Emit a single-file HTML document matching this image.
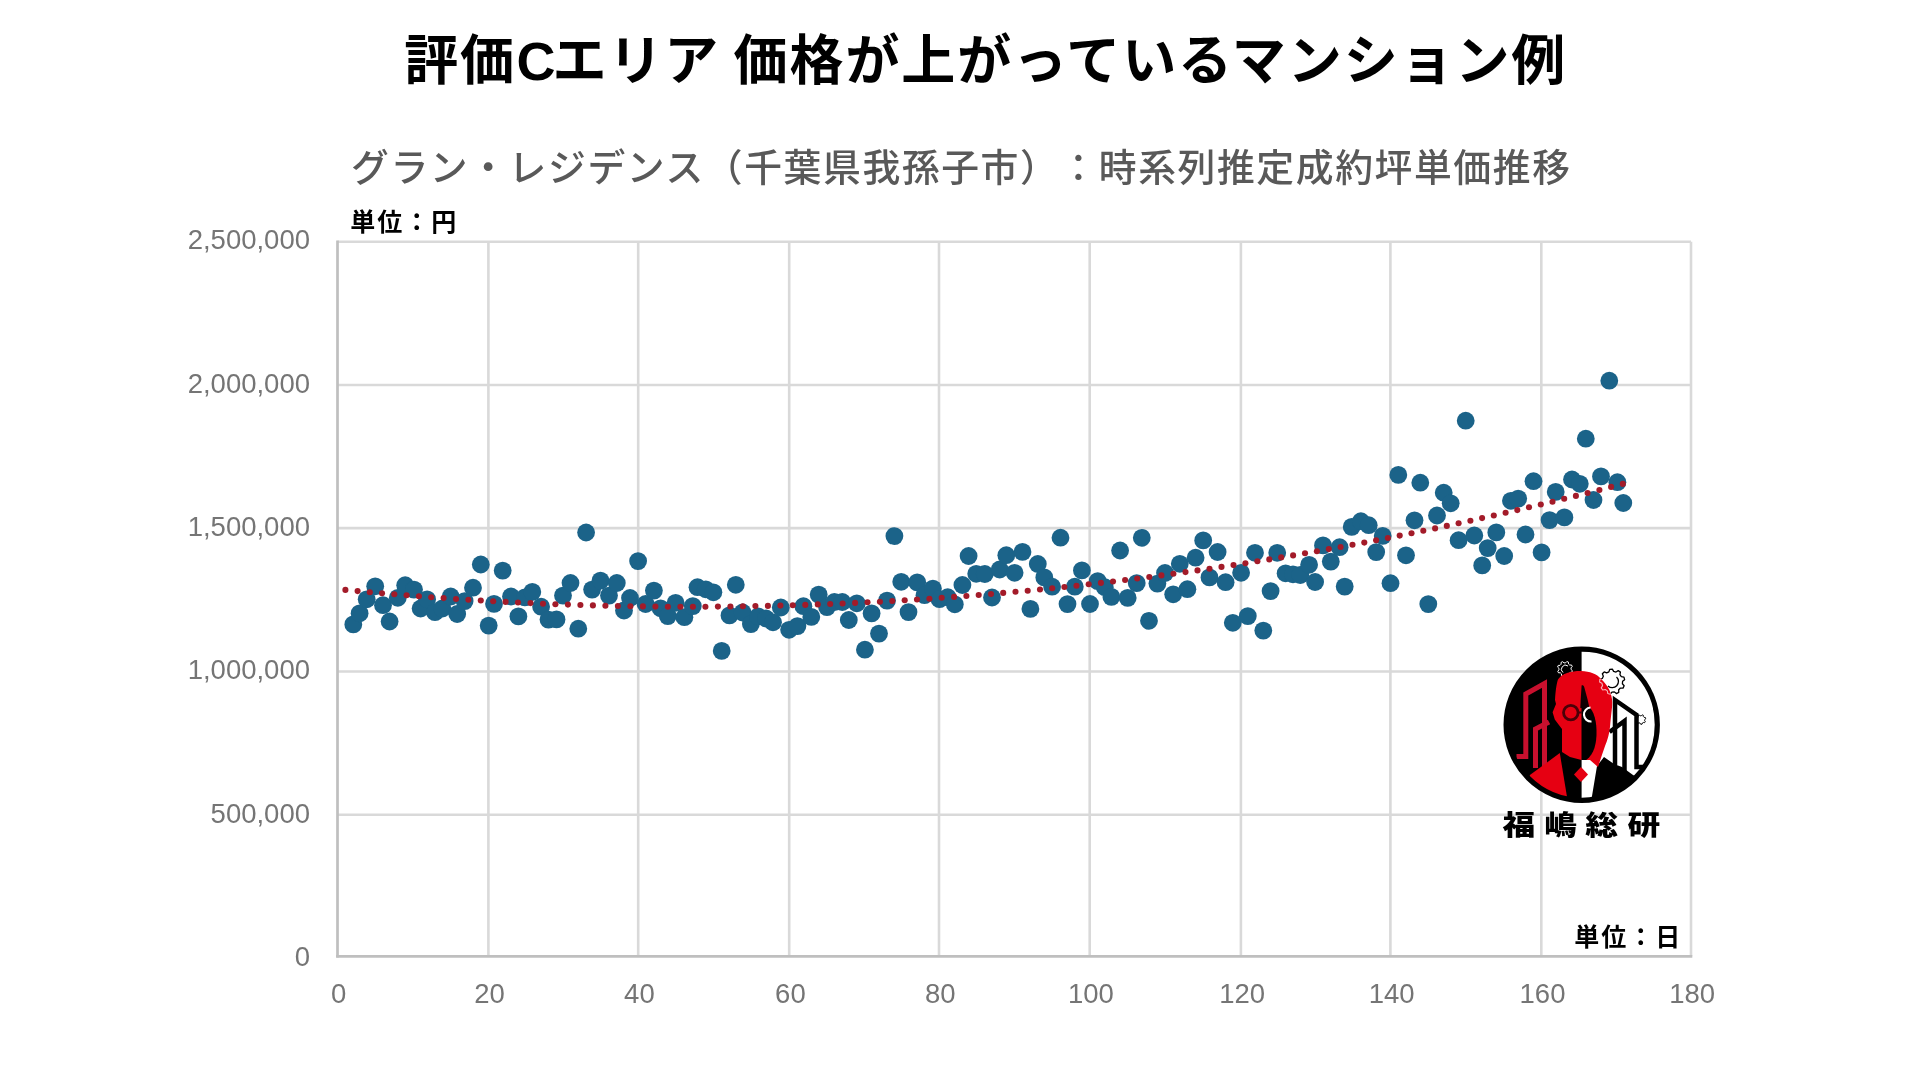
<!DOCTYPE html>
<html lang="ja"><head><meta charset="utf-8"><title>評価Cエリア 価格が上がっているマンション例</title>
<style>
html,body{margin:0;padding:0;background:#fff;}
body{width:1920px;height:1080px;position:relative;overflow:hidden;}
svg{position:absolute;left:0;top:0;will-change:transform;}
.jp{font-family:"Liberation Sans","Noto Sans CJK JP",sans-serif;}
</style></head><body>
<svg width="1920" height="1080" viewBox="0 0 1920 1080">
<text y="80" font-family="'Liberation Sans','Noto Sans CJK JP',sans-serif" font-weight="700" font-size="54" letter-spacing="1.9" fill="#000"><tspan x="404.2">評価</tspan><tspan x="516.5">C</tspan><tspan x="552.5">エリア </tspan><tspan x="733.6">価格が上がっているマンション例</tspan></text>
<text x="351" y="181" font-family="'Liberation Sans','Noto Sans CJK JP',sans-serif" font-weight="500" font-size="37.8" letter-spacing="1.6" fill="#595959" style="text-spacing-trim:space-all">グラン・レジデンス（千葉県我孫子市）：時系列推定成約坪単価推移</text>
<text x="350.3" y="230.5" font-family="'Liberation Sans','Noto Sans CJK JP',sans-serif" font-weight="700" font-size="25" letter-spacing="2" fill="#000">単位：円</text>
<g><line x1="488.4" y1="241.7" x2="488.4" y2="956.3" stroke="#d9d9d9" stroke-width="2.6"/>
<line x1="638.2" y1="241.7" x2="638.2" y2="956.3" stroke="#d9d9d9" stroke-width="2.6"/>
<line x1="789.2" y1="241.7" x2="789.2" y2="956.3" stroke="#d9d9d9" stroke-width="2.6"/>
<line x1="939.0" y1="241.7" x2="939.0" y2="956.3" stroke="#d9d9d9" stroke-width="2.6"/>
<line x1="1089.7" y1="241.7" x2="1089.7" y2="956.3" stroke="#d9d9d9" stroke-width="2.6"/>
<line x1="1240.9" y1="241.7" x2="1240.9" y2="956.3" stroke="#d9d9d9" stroke-width="2.6"/>
<line x1="1390.4" y1="241.7" x2="1390.4" y2="956.3" stroke="#d9d9d9" stroke-width="2.6"/>
<line x1="1541.3" y1="241.7" x2="1541.3" y2="956.3" stroke="#d9d9d9" stroke-width="2.6"/>
<line x1="1691.0" y1="241.7" x2="1691.0" y2="956.3" stroke="#d9d9d9" stroke-width="2.6"/>
<line x1="337.5" y1="814.7" x2="1691.0" y2="814.7" stroke="#d9d9d9" stroke-width="2.6"/>
<line x1="337.5" y1="671.5" x2="1691.0" y2="671.5" stroke="#d9d9d9" stroke-width="2.6"/>
<line x1="337.5" y1="528.1" x2="1691.0" y2="528.1" stroke="#d9d9d9" stroke-width="2.6"/>
<line x1="337.5" y1="385.0" x2="1691.0" y2="385.0" stroke="#d9d9d9" stroke-width="2.6"/>
<line x1="337.5" y1="241.7" x2="1691.0" y2="241.7" stroke="#d9d9d9" stroke-width="2.6"/>
<line x1="337.5" y1="240.4" x2="337.5" y2="957.6" stroke="#bfbfbf" stroke-width="2.7"/>
<line x1="336.2" y1="956.3" x2="1692.3" y2="956.3" stroke="#bfbfbf" stroke-width="2.7"/></g>
<g fill="#757575" font-family="'Liberation Sans',Arial,sans-serif" font-size="27.5">
<text x="310" y="965.8" text-anchor="end">0</text>
<text x="310" y="822.5" text-anchor="end">500,000</text>
<text x="310" y="679.2" text-anchor="end">1,000,000</text>
<text x="310" y="535.9" text-anchor="end">1,500,000</text>
<text x="310" y="392.6" text-anchor="end">2,000,000</text>
<text x="310" y="249.3" text-anchor="end">2,500,000</text>
<text x="338.7" y="1003.1" text-anchor="middle">0</text>
<text x="489.6" y="1003.1" text-anchor="middle">20</text>
<text x="639.4" y="1003.1" text-anchor="middle">40</text>
<text x="790.4" y="1003.1" text-anchor="middle">60</text>
<text x="940.2" y="1003.1" text-anchor="middle">80</text>
<text x="1090.9" y="1003.1" text-anchor="middle">100</text>
<text x="1242.1" y="1003.1" text-anchor="middle">120</text>
<text x="1391.6" y="1003.1" text-anchor="middle">140</text>
<text x="1542.5" y="1003.1" text-anchor="middle">160</text>
<text x="1692.2" y="1003.1" text-anchor="middle">180</text>
</g>
<g fill="#1b6389">
<circle cx="353.3" cy="624.4" r="8.9"/>
<circle cx="359.6" cy="613.3" r="8.9"/>
<circle cx="366.7" cy="599.3" r="8.9"/>
<circle cx="375.2" cy="586.3" r="8.9"/>
<circle cx="383.0" cy="605.2" r="8.9"/>
<circle cx="389.6" cy="621.5" r="8.9"/>
<circle cx="397.8" cy="597.8" r="8.9"/>
<circle cx="405.2" cy="585.2" r="8.9"/>
<circle cx="414.0" cy="589.6" r="8.9"/>
<circle cx="420.6" cy="608.5" r="8.9"/>
<circle cx="427.1" cy="599.3" r="8.9"/>
<circle cx="435.0" cy="612.2" r="8.9"/>
<circle cx="442.4" cy="608.5" r="8.9"/>
<circle cx="450.7" cy="596.5" r="8.9"/>
<circle cx="457.2" cy="614.0" r="8.9"/>
<circle cx="464.6" cy="601.1" r="8.9"/>
<circle cx="473.0" cy="587.7" r="8.9"/>
<circle cx="480.8" cy="564.5" r="8.9"/>
<circle cx="488.7" cy="625.6" r="8.9"/>
<circle cx="494.0" cy="603.9" r="8.9"/>
<circle cx="502.7" cy="570.6" r="8.9"/>
<circle cx="511.0" cy="596.5" r="8.9"/>
<circle cx="518.4" cy="616.4" r="8.9"/>
<circle cx="524.9" cy="597.4" r="8.9"/>
<circle cx="532.3" cy="591.9" r="8.9"/>
<circle cx="541.1" cy="606.7" r="8.9"/>
<circle cx="548.5" cy="619.6" r="8.9"/>
<circle cx="556.5" cy="619.4" r="8.9"/>
<circle cx="563.0" cy="595.6" r="8.9"/>
<circle cx="570.5" cy="583.0" r="8.9"/>
<circle cx="578.3" cy="628.7" r="8.9"/>
<circle cx="586.1" cy="532.5" r="8.9"/>
<circle cx="592.1" cy="589.6" r="8.9"/>
<circle cx="600.5" cy="580.6" r="8.9"/>
<circle cx="609.0" cy="595.6" r="8.9"/>
<circle cx="616.8" cy="583.0" r="8.9"/>
<circle cx="624.0" cy="610.5" r="8.9"/>
<circle cx="630.0" cy="598.0" r="8.9"/>
<circle cx="638.1" cy="561.1" r="8.9"/>
<circle cx="645.6" cy="604.0" r="8.9"/>
<circle cx="653.9" cy="590.6" r="8.9"/>
<circle cx="660.6" cy="608.3" r="8.9"/>
<circle cx="667.8" cy="616.1" r="8.9"/>
<circle cx="675.6" cy="602.8" r="8.9"/>
<circle cx="684.4" cy="617.2" r="8.9"/>
<circle cx="692.8" cy="606.1" r="8.9"/>
<circle cx="697.5" cy="587.2" r="8.9"/>
<circle cx="705.8" cy="589.3" r="8.9"/>
<circle cx="713.4" cy="592.3" r="8.9"/>
<circle cx="721.7" cy="650.9" r="8.9"/>
<circle cx="729.5" cy="615.4" r="8.9"/>
<circle cx="735.8" cy="584.8" r="8.9"/>
<circle cx="742.6" cy="612.5" r="8.9"/>
<circle cx="750.9" cy="624.1" r="8.9"/>
<circle cx="758.2" cy="616.4" r="8.9"/>
<circle cx="766.0" cy="618.5" r="8.9"/>
<circle cx="773.0" cy="622.3" r="8.9"/>
<circle cx="780.8" cy="607.5" r="8.9"/>
<circle cx="789.1" cy="629.8" r="8.9"/>
<circle cx="797.4" cy="626.1" r="8.9"/>
<circle cx="803.4" cy="606.2" r="8.9"/>
<circle cx="811.3" cy="616.9" r="8.9"/>
<circle cx="818.7" cy="594.6" r="8.9"/>
<circle cx="827.0" cy="607.1" r="8.9"/>
<circle cx="834.4" cy="602.0" r="8.9"/>
<circle cx="842.3" cy="602.0" r="8.9"/>
<circle cx="848.8" cy="620.0" r="8.9"/>
<circle cx="856.8" cy="603.3" r="8.9"/>
<circle cx="864.9" cy="649.7" r="8.9"/>
<circle cx="871.6" cy="613.4" r="8.9"/>
<circle cx="879.0" cy="633.6" r="8.9"/>
<circle cx="887.0" cy="600.6" r="8.9"/>
<circle cx="894.4" cy="536.1" r="8.9"/>
<circle cx="901.2" cy="581.8" r="8.9"/>
<circle cx="908.5" cy="612.1" r="8.9"/>
<circle cx="917.2" cy="582.4" r="8.9"/>
<circle cx="924.5" cy="595.2" r="8.9"/>
<circle cx="932.9" cy="588.6" r="8.9"/>
<circle cx="939.5" cy="599.2" r="8.9"/>
<circle cx="947.7" cy="597.2" r="8.9"/>
<circle cx="954.8" cy="604.3" r="8.9"/>
<circle cx="962.4" cy="585.0" r="8.9"/>
<circle cx="968.6" cy="556.0" r="8.9"/>
<circle cx="976.2" cy="573.8" r="8.9"/>
<circle cx="984.8" cy="574.0" r="8.9"/>
<circle cx="992.0" cy="597.5" r="8.9"/>
<circle cx="999.7" cy="569.5" r="8.9"/>
<circle cx="1006.3" cy="555.2" r="8.9"/>
<circle cx="1014.6" cy="572.8" r="8.9"/>
<circle cx="1022.5" cy="551.9" r="8.9"/>
<circle cx="1030.4" cy="608.9" r="8.9"/>
<circle cx="1037.8" cy="564.0" r="8.9"/>
<circle cx="1044.3" cy="577.4" r="8.9"/>
<circle cx="1052.1" cy="586.7" r="8.9"/>
<circle cx="1060.5" cy="537.7" r="8.9"/>
<circle cx="1067.5" cy="604.1" r="8.9"/>
<circle cx="1074.8" cy="586.7" r="8.9"/>
<circle cx="1081.9" cy="570.4" r="8.9"/>
<circle cx="1090.0" cy="604.0" r="8.9"/>
<circle cx="1097.7" cy="581.1" r="8.9"/>
<circle cx="1104.8" cy="587.2" r="8.9"/>
<circle cx="1111.4" cy="596.9" r="8.9"/>
<circle cx="1120.1" cy="550.5" r="8.9"/>
<circle cx="1127.7" cy="597.9" r="8.9"/>
<circle cx="1136.7" cy="583.1" r="8.9"/>
<circle cx="1141.8" cy="537.8" r="8.9"/>
<circle cx="1149.0" cy="620.8" r="8.9"/>
<circle cx="1157.4" cy="583.6" r="8.9"/>
<circle cx="1165.0" cy="573.0" r="8.9"/>
<circle cx="1173.2" cy="594.3" r="8.9"/>
<circle cx="1179.8" cy="563.8" r="8.9"/>
<circle cx="1187.4" cy="589.2" r="8.9"/>
<circle cx="1195.6" cy="557.7" r="8.9"/>
<circle cx="1203.2" cy="540.4" r="8.9"/>
<circle cx="1209.5" cy="577.4" r="8.9"/>
<circle cx="1217.6" cy="552.0" r="8.9"/>
<circle cx="1225.6" cy="582.2" r="8.9"/>
<circle cx="1232.8" cy="622.8" r="8.9"/>
<circle cx="1241.1" cy="572.8" r="8.9"/>
<circle cx="1247.8" cy="616.1" r="8.9"/>
<circle cx="1255.0" cy="552.8" r="8.9"/>
<circle cx="1263.3" cy="630.6" r="8.9"/>
<circle cx="1270.6" cy="591.1" r="8.9"/>
<circle cx="1277.2" cy="552.8" r="8.9"/>
<circle cx="1285.6" cy="573.3" r="8.9"/>
<circle cx="1293.0" cy="574.3" r="8.9"/>
<circle cx="1300.3" cy="575.0" r="8.9"/>
<circle cx="1309.1" cy="564.8" r="8.9"/>
<circle cx="1315.1" cy="582.0" r="8.9"/>
<circle cx="1323.0" cy="545.4" r="8.9"/>
<circle cx="1330.8" cy="561.6" r="8.9"/>
<circle cx="1339.6" cy="547.2" r="8.9"/>
<circle cx="1344.7" cy="586.6" r="8.9"/>
<circle cx="1351.7" cy="526.9" r="8.9"/>
<circle cx="1360.9" cy="521.2" r="8.9"/>
<circle cx="1368.7" cy="525.2" r="8.9"/>
<circle cx="1376.2" cy="552.1" r="8.9"/>
<circle cx="1382.7" cy="535.9" r="8.9"/>
<circle cx="1390.5" cy="583.2" r="8.9"/>
<circle cx="1398.3" cy="474.9" r="8.9"/>
<circle cx="1406.0" cy="555.3" r="8.9"/>
<circle cx="1414.5" cy="520.3" r="8.9"/>
<circle cx="1420.3" cy="482.7" r="8.9"/>
<circle cx="1428.3" cy="604.1" r="8.9"/>
<circle cx="1437.0" cy="515.5" r="8.9"/>
<circle cx="1443.7" cy="492.7" r="8.9"/>
<circle cx="1450.7" cy="503.3" r="8.9"/>
<circle cx="1458.6" cy="540.2" r="8.9"/>
<circle cx="1465.7" cy="420.7" r="8.9"/>
<circle cx="1474.3" cy="535.5" r="8.9"/>
<circle cx="1482.2" cy="565.4" r="8.9"/>
<circle cx="1487.7" cy="548.1" r="8.9"/>
<circle cx="1496.3" cy="532.4" r="8.9"/>
<circle cx="1504.2" cy="556.0" r="8.9"/>
<circle cx="1510.9" cy="500.8" r="8.9"/>
<circle cx="1518.2" cy="498.6" r="8.9"/>
<circle cx="1525.5" cy="534.5" r="8.9"/>
<circle cx="1533.5" cy="481.2" r="8.9"/>
<circle cx="1541.6" cy="552.4" r="8.9"/>
<circle cx="1549.6" cy="520.1" r="8.9"/>
<circle cx="1555.7" cy="491.9" r="8.9"/>
<circle cx="1564.4" cy="517.4" r="8.9"/>
<circle cx="1572.0" cy="479.5" r="8.9"/>
<circle cx="1579.8" cy="483.8" r="8.9"/>
<circle cx="1585.8" cy="438.7" r="8.9"/>
<circle cx="1593.5" cy="500.0" r="8.9"/>
<circle cx="1601.0" cy="476.4" r="8.9"/>
<circle cx="1609.3" cy="380.7" r="8.9"/>
<circle cx="1617.4" cy="482.2" r="8.9"/>
<circle cx="1623.3" cy="503.0" r="8.9"/>
</g>
<g fill="#a31b29"><circle cx="345.4" cy="589.9" r="3.05"/><circle cx="357.6" cy="591.1" r="3.05"/><circle cx="369.8" cy="592.2" r="3.05"/><circle cx="382.0" cy="593.3" r="3.05"/><circle cx="394.3" cy="594.3" r="3.05"/><circle cx="406.6" cy="595.3" r="3.05"/><circle cx="418.9" cy="596.3" r="3.05"/><circle cx="431.2" cy="597.2" r="3.05"/><circle cx="443.6" cy="598.1" r="3.05"/><circle cx="456.0" cy="599.0" r="3.05"/><circle cx="468.4" cy="599.8" r="3.05"/><circle cx="480.8" cy="600.5" r="3.05"/><circle cx="493.2" cy="601.2" r="3.05"/><circle cx="505.6" cy="601.9" r="3.05"/><circle cx="518.0" cy="602.5" r="3.05"/><circle cx="530.5" cy="603.1" r="3.05"/><circle cx="543.0" cy="603.7" r="3.05"/><circle cx="555.4" cy="604.2" r="3.05"/><circle cx="567.9" cy="604.6" r="3.05"/><circle cx="580.4" cy="605.0" r="3.05"/><circle cx="592.9" cy="605.4" r="3.05"/><circle cx="605.4" cy="605.7" r="3.05"/><circle cx="617.9" cy="606.0" r="3.05"/><circle cx="630.4" cy="606.2" r="3.05"/><circle cx="642.9" cy="606.4" r="3.05"/><circle cx="655.4" cy="606.6" r="3.05"/><circle cx="667.9" cy="606.7" r="3.05"/><circle cx="680.4" cy="606.7" r="3.05"/><circle cx="692.9" cy="606.7" r="3.05"/><circle cx="705.4" cy="606.7" r="3.05"/><circle cx="717.9" cy="606.6" r="3.05"/><circle cx="730.4" cy="606.5" r="3.05"/><circle cx="742.9" cy="606.3" r="3.05"/><circle cx="755.4" cy="606.1" r="3.05"/><circle cx="767.9" cy="605.9" r="3.05"/><circle cx="780.4" cy="605.6" r="3.05"/><circle cx="792.8" cy="605.2" r="3.05"/><circle cx="805.3" cy="604.9" r="3.05"/><circle cx="817.8" cy="604.4" r="3.05"/><circle cx="830.2" cy="604.0" r="3.05"/><circle cx="842.6" cy="603.5" r="3.05"/><circle cx="855.1" cy="602.9" r="3.05"/><circle cx="867.5" cy="602.3" r="3.05"/><circle cx="879.9" cy="601.7" r="3.05"/><circle cx="892.3" cy="601.0" r="3.05"/><circle cx="904.7" cy="600.2" r="3.05"/><circle cx="917.0" cy="599.5" r="3.05"/><circle cx="929.4" cy="598.7" r="3.05"/><circle cx="941.7" cy="597.8" r="3.05"/><circle cx="954.1" cy="596.9" r="3.05"/><circle cx="966.4" cy="596.0" r="3.05"/><circle cx="978.7" cy="595.0" r="3.05"/><circle cx="991.0" cy="594.0" r="3.05"/><circle cx="1003.2" cy="592.9" r="3.05"/><circle cx="1015.5" cy="591.8" r="3.05"/><circle cx="1027.7" cy="590.7" r="3.05"/><circle cx="1040.0" cy="589.5" r="3.05"/><circle cx="1052.2" cy="588.2" r="3.05"/><circle cx="1064.4" cy="587.0" r="3.05"/><circle cx="1076.5" cy="585.7" r="3.05"/><circle cx="1088.7" cy="584.3" r="3.05"/><circle cx="1100.9" cy="582.9" r="3.05"/><circle cx="1113.0" cy="581.5" r="3.05"/><circle cx="1125.1" cy="580.0" r="3.05"/><circle cx="1137.2" cy="578.5" r="3.05"/><circle cx="1149.3" cy="577.0" r="3.05"/><circle cx="1161.4" cy="575.4" r="3.05"/><circle cx="1173.4" cy="573.8" r="3.05"/><circle cx="1185.5" cy="572.1" r="3.05"/><circle cx="1197.5" cy="570.4" r="3.05"/><circle cx="1209.5" cy="568.7" r="3.05"/><circle cx="1221.5" cy="566.9" r="3.05"/><circle cx="1233.5" cy="565.1" r="3.05"/><circle cx="1245.4" cy="563.2" r="3.05"/><circle cx="1257.4" cy="561.3" r="3.05"/><circle cx="1269.3" cy="559.4" r="3.05"/><circle cx="1281.2" cy="557.4" r="3.05"/><circle cx="1293.1" cy="555.4" r="3.05"/><circle cx="1305.0" cy="553.3" r="3.05"/><circle cx="1316.9" cy="551.3" r="3.05"/><circle cx="1328.8" cy="549.1" r="3.05"/><circle cx="1340.6" cy="547.0" r="3.05"/><circle cx="1352.5" cy="544.8" r="3.05"/><circle cx="1364.3" cy="542.6" r="3.05"/><circle cx="1376.1" cy="540.3" r="3.05"/><circle cx="1387.9" cy="538.0" r="3.05"/><circle cx="1399.7" cy="535.6" r="3.05"/><circle cx="1411.5" cy="533.2" r="3.05"/><circle cx="1423.3" cy="530.8" r="3.05"/><circle cx="1435.1" cy="528.4" r="3.05"/><circle cx="1446.8" cy="525.9" r="3.05"/><circle cx="1458.6" cy="523.3" r="3.05"/><circle cx="1470.4" cy="520.8" r="3.05"/><circle cx="1482.1" cy="518.1" r="3.05"/><circle cx="1493.8" cy="515.5" r="3.05"/><circle cx="1505.6" cy="512.8" r="3.05"/><circle cx="1517.3" cy="510.1" r="3.05"/><circle cx="1529.0" cy="507.3" r="3.05"/><circle cx="1540.8" cy="504.5" r="3.05"/><circle cx="1552.5" cy="501.7" r="3.05"/><circle cx="1564.2" cy="498.8" r="3.05"/><circle cx="1575.9" cy="495.9" r="3.05"/><circle cx="1587.6" cy="493.0" r="3.05"/><circle cx="1599.4" cy="490.0" r="3.05"/><circle cx="1611.1" cy="486.9" r="3.05"/><circle cx="1622.8" cy="483.9" r="3.05"/></g>
<g><defs><clipPath id="lc"><circle cx="1581.7" cy="724.7" r="76"/></clipPath><clipPath id="hc"><path id="headp" d="M1555,700 C1555.5,690 1557,681 1558.3,678.9 C1561,675.5 1564,674 1567.8,672.8 C1572,671.5 1577,671 1581.1,671.1 C1586,671.2 1589,672 1592.8,673.3 C1596,674.5 1599,676.5 1601.1,678.9 C1604.5,682 1607.5,686 1609.4,690 C1611,694 1612,697 1612.2,702 C1612.3,708 1611,715 1610,727 C1609,735 1607.5,740 1605.2,745.6 C1603,752 1601,758 1598,767 L1590,760 L1581.5,760 L1570,757 L1562,752 L1562,729 L1559.3,725.6 L1554.8,719.6 L1552.6,712.2 L1556,704 Z"/></clipPath></defs>
<circle cx="1581.7" cy="724.7" r="76" fill="#fff"/>
<g clip-path="url(#lc)">
<rect x="1500" y="640" width="81.6" height="170" fill="#000"/>
<path d="M1622.39,683.77 L1624.14,685.73 L1623.04,688.13 L1620.41,688.08 L1618.68,689.83 L1618.75,692.46 L1616.37,693.59 L1614.39,691.87 L1611.94,692.10 L1610.30,694.16 L1607.75,693.49 L1607.34,690.89 L1605.31,689.49 L1602.74,690.02 L1601.22,687.87 L1602.57,685.62 L1601.92,683.24 L1599.60,681.99 L1599.82,679.37 L1602.30,678.51 L1603.33,676.27 L1602.36,673.83 L1604.21,671.96 L1606.67,672.89 L1608.89,671.84 L1609.72,669.35 L1612.34,669.10 L1613.62,671.40 L1616.00,672.02 L1618.24,670.64 L1620.41,672.14 L1619.91,674.72 L1621.34,676.73 L1623.94,677.11 L1624.63,679.65 L1622.59,681.31 Z" fill="none" stroke="#000" stroke-width="1.3" stroke-linejoin="round"/>
<path d="M1616.5,677 A6.1,6.1 0 1 1 1608,686" fill="none" stroke="#000" stroke-width="1.3"/>
<path d="M1571.07,669.51 L1572.38,670.72 L1571.75,672.39 L1569.97,672.44 L1568.86,673.62 L1568.93,675.40 L1567.31,676.14 L1566.01,674.92 L1564.39,674.97 L1563.18,676.28 L1561.51,675.65 L1561.46,673.87 L1560.28,672.76 L1558.50,672.83 L1557.76,671.21 L1558.98,669.91 L1558.93,668.29 L1557.62,667.08 L1558.25,665.41 L1560.03,665.36 L1561.14,664.18 L1561.07,662.40 L1562.69,661.66 L1563.99,662.88 L1565.61,662.83 L1566.82,661.52 L1568.49,662.15 L1568.54,663.93 L1569.72,665.04 L1571.50,664.97 L1572.24,666.59 L1571.02,667.89 Z" fill="none" stroke="#fff" stroke-width="1.0" stroke-linejoin="round"/>
<path d="M1568,666 A3.9,3.9 0 1 0 1563,672.5" fill="none" stroke="#fff" stroke-width="1.0"/>
<path d="M1644.63,720.62 L1645.30,721.64 L1644.57,722.70 L1643.38,722.46 L1642.39,723.04 L1642.01,724.19 L1640.72,724.29 L1640.17,723.21 L1639.10,722.79 L1637.96,723.21 L1637.08,722.27 L1637.58,721.17 L1637.24,720.06 L1636.20,719.44 L1636.39,718.16 L1637.57,717.87 L1638.22,716.91 L1638.06,715.71 L1639.17,715.06 L1640.14,715.80 L1641.29,715.71 L1642.13,714.83 L1643.33,715.30 L1643.35,716.52 L1644.14,717.36 L1645.35,717.47 L1645.73,718.70 L1644.80,719.48 Z" fill="none" stroke="#000" stroke-width="1.0" stroke-linejoin="round"/>
<path d="M1597,766 L1604,757 L1614,764 L1622,767 L1633,775 L1662,790 L1662,812 L1588,812 L1592,796 Z" fill="#000"/>
<path d="M1516.5,756.5 L1525.8,756.5 L1525.8,694 L1544.5,683.5 L1544.5,772" fill="none" stroke="#c8102e" stroke-width="5"/>
<path d="M1535.5,768 L1535.5,729 L1549,722" fill="none" stroke="#c8102e" stroke-width="5"/>
<path d="M1615,765 L1615,700 L1636.5,715 L1636.5,767 L1643,767" fill="none" stroke="#000" stroke-width="4.5"/>
<path d="M1609.5,732 L1624.5,721 L1624.5,773" fill="none" stroke="#000" stroke-width="4.5"/>
<path d="M1529.9,775.1 L1559.8,753.1 L1568.5,806 L1520,806 Z" fill="#e60012"/>
<use href="#headp" fill="#e60012"/>
<g clip-path="url(#hc)">
<path d="M1581.5,706 L1588,706 C1594,710 1597,722 1596.5,735 C1596,748 1592,757 1584,761.5 L1581.5,762 Z" fill="#000"/>
<path d="M1581.6,685.5 C1582.5,684.8 1583.6,685.2 1584.2,687 L1587.2,698 L1589.5,708 L1580.3,708 L1580.8,698 Z" fill="#100002"/>
<path d="M1622.39,683.77 L1624.14,685.73 L1623.04,688.13 L1620.41,688.08 L1618.68,689.83 L1618.75,692.46 L1616.37,693.59 L1614.39,691.87 L1611.94,692.10 L1610.30,694.16 L1607.75,693.49 L1607.34,690.89 L1605.31,689.49 L1602.74,690.02 L1601.22,687.87 L1602.57,685.62 L1601.92,683.24 L1599.60,681.99 L1599.82,679.37 L1602.30,678.51 L1603.33,676.27 L1602.36,673.83 L1604.21,671.96 L1606.67,672.89 L1608.89,671.84 L1609.72,669.35 L1612.34,669.10 L1613.62,671.40 L1616.00,672.02 L1618.24,670.64 L1620.41,672.14 L1619.91,674.72 L1621.34,676.73 L1623.94,677.11 L1624.63,679.65 L1622.59,681.31 Z" fill="none" stroke="#f4b0b8" stroke-width="1.1" stroke-linejoin="round"/>
</g>
<path d="M1590.5,707.5 A7,7 0 0 0 1591.5,721.5" fill="none" stroke="#fff" stroke-width="2.2"/>
<circle cx="1570.8" cy="712.6" r="7.3" fill="none" stroke="#4a0008" stroke-width="2.8"/>
<path d="M1578,712.5 L1582,712.5" stroke="#4a0008" stroke-width="2"/>
<path d="M1574,774.5 L1581,767 L1588,774.5 L1581,782 Z" fill="#e60012"/>
</g>
<circle cx="1581.7" cy="724.7" r="75.6" fill="none" stroke="#000" stroke-width="5.2"/></g>
<g font-family="'Liberation Sans','Noto Sans CJK JP',sans-serif" font-weight="900" font-size="27.5" fill="#000"><text x="1519" y="834.6" text-anchor="middle" transform="translate(1519 0) scale(1.19 1) translate(-1519 0)">福</text>
<text x="1560.5" y="834.6" text-anchor="middle" transform="translate(1560.5 0) scale(1.19 1) translate(-1560.5 0)">嶋</text>
<text x="1601.5" y="834.6" text-anchor="middle" transform="translate(1601.5 0) scale(1.19 1) translate(-1601.5 0)">総</text>
<text x="1644" y="834.6" text-anchor="middle" transform="translate(1644 0) scale(1.19 1) translate(-1644 0)">研</text></g>
<text x="1574.2" y="945.5" font-family="'Liberation Sans','Noto Sans CJK JP',sans-serif" font-weight="700" font-size="25" letter-spacing="2" fill="#000">単位：日</text>
</svg>
</body></html>
